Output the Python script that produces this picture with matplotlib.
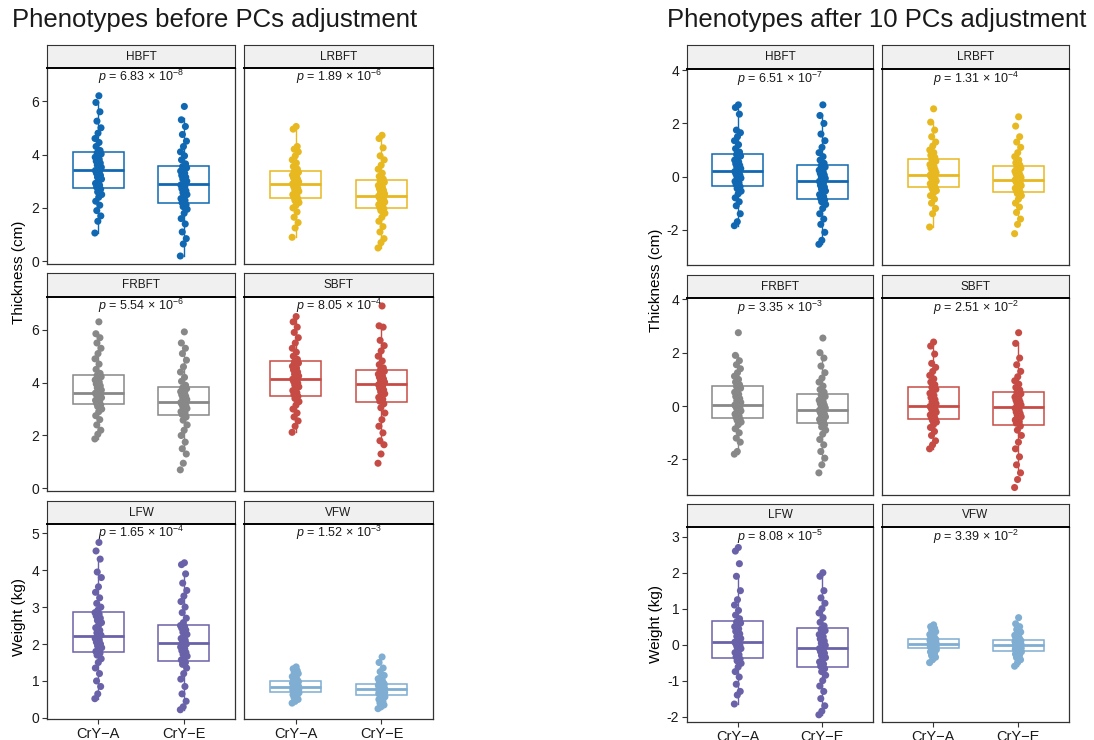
import numpy as np
import matplotlib
matplotlib.use("Agg")
import matplotlib.pyplot as plt

plt.rcParams['font.family'] = ['Liberation Sans', 'DejaVu Sans']
plt.rcParams['mathtext.fontset'] = 'custom'
plt.rcParams['mathtext.rm'] = 'Liberation Sans'
plt.rcParams['mathtext.it'] = 'Liberation Sans:italic'
plt.rcParams['axes.unicode_minus'] = False

traits = ["HBFT", "LRBFT", "FRBFT", "SBFT", "LFW", "VFW"]
groups = ["CrY\u2212A", "CrY\u2212E"]
colors = ["#1068B2", "#E8B820", "#888888", "#C74B45", "#6A62A8", "#7FAED2"]

# ---- raw phenotypes ----
hbft_before_a = [1.06, 1.5, 1.7, 1.9, 2.1, 2.25, 2.4, 2.5, 2.6, 2.7,
                 2.78, 2.85, 2.92, 3.0, 3.08, 3.15, 3.22, 3.3, 3.36, 3.4,
                 3.45, 3.52, 3.6, 3.68, 3.75, 3.82, 3.9, 3.96, 4.02, 4.06,
                 4.15, 4.3, 4.45, 4.6, 4.8, 5.0, 5.25, 5.6, 5.95, 6.2]
hbft_before_e = [0.2, 0.65, 0.85, 1.1, 1.4, 1.6, 1.8, 1.95, 2.05, 2.12,
                 2.2, 2.28, 2.35, 2.42, 2.5, 2.57, 2.64, 2.72, 2.8, 2.86,
                 2.92, 3.0, 3.08, 3.15, 3.22, 3.3, 3.38, 3.45, 3.5, 3.55,
                 3.65, 3.8, 3.95, 4.1, 4.3, 4.5, 4.75, 5.05, 5.3, 5.8]
lrbft_before_a = [0.9, 1.25, 1.45, 1.65, 1.85, 2.0, 2.1, 2.2, 2.28, 2.33,
                  2.4, 2.45, 2.5, 2.56, 2.62, 2.68, 2.74, 2.8, 2.86, 2.9,
                  2.94, 2.98, 3.03, 3.08, 3.13, 3.18, 3.23, 3.28, 3.33, 3.37,
                  3.45, 3.55, 3.68, 3.8, 3.95, 4.1, 4.2, 4.3, 4.95, 5.05]
lrbft_before_e = [0.5, 0.7, 0.85, 1.1, 1.3, 1.5, 1.65, 1.8, 1.9, 1.96,
                  2.02, 2.07, 2.12, 2.17, 2.22, 2.27, 2.32, 2.37, 2.41, 2.44,
                  2.48, 2.53, 2.6, 2.66, 2.72, 2.78, 2.84, 2.9, 2.96, 3.0,
                  3.08, 3.18, 3.3, 3.45, 3.6, 3.8, 3.95, 4.25, 4.6, 4.72]
frbft_before_a = [1.87, 2.05, 2.2, 2.4, 2.6, 2.75, 2.9, 3.0, 3.1, 3.16,
                  3.22, 3.28, 3.33, 3.38, 3.43, 3.48, 3.52, 3.55, 3.58, 3.6,
                  3.65, 3.72, 3.8, 3.88, 3.95, 4.02, 4.1, 4.17, 4.22, 4.27,
                  4.35, 4.5, 4.7, 4.9, 5.1, 5.3, 5.5, 5.7, 5.85, 6.3]
frbft_before_e = [0.7, 0.95, 1.3, 1.5, 1.75, 2.0, 2.2, 2.4, 2.58, 2.7,
                  2.8, 2.85, 2.9, 2.96, 3.02, 3.08, 3.13, 3.18, 3.22, 3.25,
                  3.3, 3.36, 3.42, 3.48, 3.54, 3.6, 3.66, 3.72, 3.77, 3.8,
                  3.9, 4.05, 4.2, 4.4, 4.6, 4.85, 5.1, 5.3, 5.5, 5.92]
sbft_before_a = [2.12, 2.35, 2.55, 2.7, 2.85, 3.0, 3.15, 3.28, 3.4, 3.48,
                 3.55, 3.62, 3.7, 3.77, 3.84, 3.91, 3.98, 4.04, 4.1, 4.13,
                 4.18, 4.25, 4.32, 4.4, 4.48, 4.55, 4.62, 4.68, 4.74, 4.78,
                 4.88, 5.0, 5.15, 5.3, 5.5, 5.7, 5.9, 6.1, 6.3, 6.5]
sbft_before_e = [0.95, 1.3, 1.65, 1.8, 2.1, 2.35, 2.6, 2.85, 3.05, 3.2,
                 3.3, 3.37, 3.44, 3.51, 3.58, 3.65, 3.72, 3.79, 3.86, 3.92,
                 3.97, 4.02, 4.08, 4.14, 4.2, 4.26, 4.32, 4.38, 4.43, 4.47,
                 4.56, 4.68, 4.82, 5.0, 5.2, 5.4, 5.6, 6.1, 6.15, 6.9]
lfw_before_a = [0.52, 0.65, 0.85, 1.0, 1.2, 1.35, 1.5, 1.6, 1.7, 1.75,
                1.8, 1.85, 1.9, 1.95, 2.0, 2.05, 2.1, 2.15, 2.2, 2.24,
                2.3, 2.37, 2.44, 2.51, 2.58, 2.64, 2.7, 2.76, 2.81, 2.85,
                2.92, 3.0, 3.1, 3.25, 3.4, 3.55, 3.8, 3.95, 4.3, 4.52, 4.75]
lfw_before_e = [0.22, 0.3, 0.45, 0.65, 0.85, 1.05, 1.2, 1.35, 1.45, 1.5,
                1.57, 1.62, 1.67, 1.72, 1.77, 1.82, 1.87, 1.92, 1.97, 2.0,
                2.05, 2.1, 2.15, 2.2, 2.26, 2.32, 2.38, 2.43, 2.47, 2.5,
                2.58, 2.7, 2.85, 3.0, 3.15, 3.3, 3.45, 3.65, 3.9, 4.15, 4.2]
vfw_before_a = [0.4, 0.45, 0.5, 0.55, 0.6, 0.63, 0.66, 0.68, 0.7, 0.7,
                0.72, 0.73, 0.75, 0.76, 0.77, 0.78, 0.79, 0.8, 0.81, 0.82,
                0.84, 0.85, 0.87, 0.88, 0.9, 0.92, 0.94, 0.96, 0.98, 0.99,
                1.02, 1.05, 1.08, 1.12, 1.15, 1.2, 1.24, 1.28, 1.33, 1.38]
vfw_before_e = [0.25, 0.3, 0.35, 0.4, 0.45, 0.5, 0.54, 0.57, 0.59, 0.61,
                0.63, 0.64, 0.66, 0.67, 0.69, 0.7, 0.72, 0.73, 0.75, 0.77,
                0.79, 0.8, 0.82, 0.83, 0.85, 0.86, 0.88, 0.89, 0.91, 0.92,
                0.95, 0.98, 1.02, 1.06, 1.1, 1.15, 1.25, 1.35, 1.5, 1.65]

# ---- residuals after 10 PCs ----
hbft_after_a = [-1.85, -1.7, -1.4, -1.1, -0.95, -0.8, -0.65, -0.55, -0.45, -0.38,
                -0.3, -0.24, -0.18, -0.12, -0.06, 0.0, 0.05, 0.1, 0.15, 0.19,
                0.24, 0.3, 0.36, 0.42, 0.48, 0.55, 0.62, 0.7, 0.77, 0.83,
                0.92, 1.05, 1.2, 1.35, 1.5, 1.65, 1.75, 2.35, 2.6, 2.7]
hbft_after_e = [-2.55, -2.4, -2.1, -1.8, -1.6, -1.4, -1.2, -1.05, -0.95, -0.88,
                -0.82, -0.75, -0.68, -0.61, -0.54, -0.47, -0.4, -0.33, -0.25, -0.18,
                -0.13, -0.07, 0.0, 0.06, 0.12, 0.18, 0.24, 0.3, 0.36, 0.41,
                0.5, 0.62, 0.75, 0.9, 1.1, 1.35, 1.6, 2.0, 2.3, 2.7]
lrbft_after_a = [-1.9, -1.4, -1.2, -1.0, -0.85, -0.72, -0.62, -0.53, -0.47, -0.43,
                 -0.37, -0.32, -0.27, -0.22, -0.17, -0.12, -0.07, -0.02, 0.02, 0.05,
                 0.1, 0.15, 0.2, 0.26, 0.32, 0.38, 0.45, 0.52, 0.58, 0.64,
                 0.72, 0.8, 0.9, 1.0, 1.15, 1.3, 1.5, 1.75, 2.05, 2.55]
lrbft_after_e = [-2.15, -1.8, -1.6, -1.35, -1.15, -1.0, -0.85, -0.72, -0.64, -0.6,
                 -0.54, -0.49, -0.44, -0.39, -0.34, -0.29, -0.24, -0.2, -0.16, -0.13,
                 -0.09, -0.04, 0.0, 0.05, 0.1, 0.15, 0.2, 0.26, 0.31, 0.36,
                 0.43, 0.52, 0.62, 0.75, 0.9, 1.1, 1.3, 1.5, 1.9, 2.25]
frbft_after_a = [-1.8, -1.7, -1.35, -1.2, -1.0, -0.85, -0.7, -0.6, -0.53, -0.49,
                 -0.42, -0.36, -0.3, -0.24, -0.18, -0.12, -0.07, -0.02, 0.02, 0.04,
                 0.08, 0.14, 0.2, 0.28, 0.36, 0.44, 0.52, 0.6, 0.67, 0.73,
                 0.8, 0.9, 1.0, 1.12, 1.25, 1.4, 1.55, 1.7, 1.9, 2.75]
frbft_after_e = [-2.5, -2.2, -1.95, -1.7, -1.45, -1.25, -1.05, -0.9, -0.78, -0.7,
                 -0.6, -0.55, -0.5, -0.45, -0.4, -0.35, -0.3, -0.25, -0.2, -0.16,
                 -0.12, -0.07, -0.02, 0.04, 0.1, 0.16, 0.22, 0.29, 0.36, 0.42,
                 0.52, 0.62, 0.75, 0.9, 1.05, 1.25, 1.5, 1.8, 2.0, 2.55]
sbft_after_a = [-1.6, -1.45, -1.3, -1.1, -0.95, -0.8, -0.7, -0.6, -0.53, -0.5,
                -0.43, -0.38, -0.33, -0.28, -0.23, -0.18, -0.13, -0.08, -0.04, -0.01,
                0.03, 0.09, 0.16, 0.24, 0.32, 0.4, 0.48, 0.56, 0.63, 0.7,
                0.8, 0.9, 1.02, 1.15, 1.3, 1.45, 1.6, 1.95, 2.25, 2.4]
sbft_after_e = [-3.05, -2.75, -2.5, -2.2, -1.9, -1.6, -1.35, -1.1, -0.9, -0.75,
                -0.64, -0.58, -0.52, -0.46, -0.4, -0.34, -0.28, -0.22, -0.15, -0.08,
                -0.02, 0.04, 0.1, 0.16, 0.22, 0.28, 0.34, 0.4, 0.46, 0.51,
                0.6, 0.7, 0.82, 0.95, 1.1, 1.3, 1.55, 1.8, 2.35, 2.75]
lfw_after_a = [-1.65, -1.4, -1.3, -1.1, -0.9, -0.75, -0.62, -0.52, -0.45, -0.4,
               -0.34, -0.28, -0.22, -0.16, -0.11, -0.06, -0.02, 0.02, 0.04, 0.07,
               0.11, 0.17, 0.23, 0.3, 0.37, 0.44, 0.5, 0.56, 0.6, 0.63,
               0.72, 0.82, 0.95, 1.1, 1.25, 1.5, 1.9, 2.25, 2.6, 2.7]
lfw_after_e = [-1.95, -1.85, -1.7, -1.5, -1.3, -1.15, -1.0, -0.85, -0.75, -0.67,
               -0.6, -0.54, -0.48, -0.42, -0.36, -0.3, -0.24, -0.19, -0.14, -0.11,
               -0.07, -0.02, 0.04, 0.1, 0.16, 0.22, 0.28, 0.34, 0.39, 0.43,
               0.52, 0.62, 0.75, 0.88, 1.0, 1.15, 1.3, 1.5, 1.9, 2.0]
vfw_after_a = [-0.5, -0.42, -0.35, -0.3, -0.25, -0.2, -0.17, -0.14, -0.12, -0.11,
               -0.09, -0.08, -0.06, -0.05, -0.04, -0.02, -0.01, 0.0, 0.01, 0.02,
               0.04, 0.05, 0.07, 0.08, 0.09, 0.11, 0.12, 0.13, 0.14, 0.15,
               0.18, 0.21, 0.25, 0.28, 0.32, 0.36, 0.4, 0.45, 0.5, 0.55]
vfw_after_e = [-0.6, -0.5, -0.42, -0.36, -0.3, -0.26, -0.23, -0.2, -0.19, -0.18,
               -0.16, -0.14, -0.13, -0.11, -0.1, -0.08, -0.06, -0.05, -0.03, -0.02,
               0.0, 0.01, 0.03, 0.04, 0.06, 0.07, 0.09, 0.1, 0.11, 0.12,
               0.15, 0.18, 0.22, 0.26, 0.3, 0.35, 0.42, 0.5, 0.58, 0.75]

# box summaries: whisker low, Q1, median, Q3, whisker high
box_before_a = [[1.06, 2.75, 3.41, 4.08, 5.95], [0.9, 2.36, 2.91, 3.39, 4.93],
                [1.87, 3.2, 3.59, 4.29, 5.85], [2.12, 3.51, 4.14, 4.8, 6.5],
                [0.52, 1.78, 2.23, 2.86, 4.3], [0.4, 0.71, 0.83, 1.0, 1.38]]
box_before_e = [[0.2, 2.17, 2.89, 3.57, 5.35], [0.5, 1.99, 2.45, 3.03, 4.6],
                [1.3, 2.76, 3.26, 3.82, 5.3], [1.65, 3.26, 3.95, 4.49, 6.15],
                [0.22, 1.54, 2.02, 2.51, 3.9], [0.25, 0.62, 0.78, 0.93, 1.35]]
box_after_a = [[-1.85, -0.34, 0.21, 0.85, 2.6], [-1.9, -0.4, 0.06, 0.67, 2.05],
               [-1.8, -0.46, 0.05, 0.75, 1.9], [-1.6, -0.47, 0.0, 0.73, 2.4],
               [-1.65, -0.37, 0.06, 0.65, 1.9], [-0.42, -0.1, 0.03, 0.16, 0.55]]
box_after_e = [[-2.55, -0.85, -0.16, 0.43, 2.3], [-1.8, -0.57, -0.14, 0.38, 1.5],
               [-2.2, -0.65, -0.14, 0.45, 2.0], [-2.5, -0.69, -0.04, 0.54, 2.35],
               [-1.95, -0.63, -0.1, 0.45, 2.0], [-0.6, -0.17, -0.02, 0.13, 0.5]]

p_before = ["6.83", "1.89", "5.54", "8.05", "1.65", "1.52"]
p_before_exp = [-8, -6, -6, -4, -4, -3]
p_after = ["6.51", "1.31", "3.35", "2.51", "8.08", "3.39"]
p_after_exp = [-7, -4, -3, -2, -5, -2]

before_pts = [(hbft_before_a, hbft_before_e), (lrbft_before_a, lrbft_before_e),
              (frbft_before_a, frbft_before_e), (sbft_before_a, sbft_before_e),
              (lfw_before_a, lfw_before_e), (vfw_before_a, vfw_before_e)]
after_pts = [(hbft_after_a, hbft_after_e), (lrbft_after_a, lrbft_after_e),
             (frbft_after_a, frbft_after_e), (sbft_after_a, sbft_after_e),
             (lfw_after_a, lfw_after_e), (vfw_after_a, vfw_after_e)]

W, H = 1094, 740
fig = plt.figure(figsize=(W / 100, H / 100), dpi=100)
EDGE = "#333333"


def rect(x0, x1, y0, y1):
    return [x0 / W, 1 - y1 / H, (x1 - x0) / W, (y1 - y0) / H]


def jitter(n, width=0.04):
    order = (np.arange(n) * 17) % n
    return np.linspace(-width, width, n)[order]


def facet(xs, strip, panel, name, pts, stats, color, ptxt, pexp,
          ylim, yticks, p_y, show_y, show_x):
    sa = fig.add_axes(rect(xs[0], xs[1], strip[0], strip[1]))
    sa.set_facecolor("#F0F0F0")
    sa.set_xticks([]); sa.set_yticks([])
    for s in sa.spines.values():
        s.set_color(EDGE); s.set_linewidth(0.8)
    sa.text(0.5, 0.5, name, ha="center", va="center", fontsize=8.5,
            color="#1a1a1a", transform=sa.transAxes)

    ax = fig.add_axes(rect(xs[0], xs[1], panel[0], panel[1]))
    bstats = []
    for st in stats:
        bstats.append(dict(whislo=st[0], q1=st[1], med=st[2], q3=st[3],
                           whishi=st[4], fliers=[]))
    ax.bxp(bstats, positions=[1, 2], widths=0.6, showcaps=False,
           showfliers=False, patch_artist=True,
           boxprops=dict(facecolor="white", edgecolor=color, linewidth=1.1),
           medianprops=dict(color=color, linewidth=2.0),
           whiskerprops=dict(color=color, linewidth=1.0), zorder=2)
    for i, vals in enumerate(pts):
        v = np.array(vals)
        ax.scatter(i + 1 + jitter(len(v)), v, s=26, color=color,
                   edgecolors="none", zorder=3)
    ax.text(1.5, p_y, r"$\it{p}$ = %s × 10$^{%d}$" % (ptxt, pexp),
            ha="center", va="center", fontsize=9, color="#1a1a1a")
    ax.set_xlim(0.4, 2.6)
    ax.set_ylim(*ylim)
    ax.set_yticks(yticks)
    for s in ax.spines.values():
        s.set_color(EDGE); s.set_linewidth(0.9)
    ax.spines["top"].set_color("black")
    ax.spines["top"].set_linewidth(1.4)
    ax.tick_params(axis="both", color=EDGE, length=3.5, width=0.8,
                   labelsize=10, labelcolor="#1a1a1a", pad=2)
    if show_y:
        ax.set_yticklabels([str(t) for t in yticks])
    else:
        ax.tick_params(axis="y", left=False, labelleft=False)
    if show_x:
        ax.set_xticks([1, 2])
        ax.set_xticklabels(groups, fontsize=10.5)
    else:
        ax.set_xticks([])
    return ax


layouts = {
    "before": dict(xs=[(47, 235), (244, 433)],
                   strips=[(45, 68), (273, 297), (501, 524)],
                   panels=[(68, 264), (297, 491), (524, 719)],
                   ylims=[(-0.1, 7.24), (-0.1, 7.24), (-0.03, 5.25)],
                   yticks=[[0, 2, 4, 6], [0, 2, 4, 6], [0, 1, 2, 3, 4, 5]],
                   py=[6.9, 6.9, 5.0]),
    "after": dict(xs=[(687, 873), (882, 1069)],
                  strips=[(45, 69), (275, 298), (504, 527)],
                  panels=[(69, 265), (298, 495), (527, 722)],
                  ylims=[(-3.33, 4.05), (-3.33, 4.05), (-2.15, 3.27)],
                  yticks=[[-2, 0, 2, 4], [-2, 0, 2, 4], [-2, -1, 0, 1, 2, 3]],
                  py=[3.69, 3.69, 3.0]),
}

sides = [("before", before_pts, box_before_a, box_before_e, p_before, p_before_exp),
         ("after", after_pts, box_after_a, box_after_e, p_after, p_after_exp)]

for key, pts, ba, be, ptxt, pexp in sides:
    lay = layouts[key]
    for k, trait in enumerate(traits):
        r, c = divmod(k, 2)
        facet(lay["xs"][c], lay["strips"][r], lay["panels"][r], trait,
              pts[k], [ba[k], be[k]], colors[k], ptxt[k], pexp[k],
              lay["ylims"][r], lay["yticks"][r], lay["py"][r],
              show_y=(c == 0), show_x=(r == 2))

fig.text(215 / W, 1 - 20 / H, "Phenotypes before PCs adjustment",
         ha="center", va="center", fontsize=18.5, color="#1a1a1a")
fig.text(877 / W, 1 - 20 / H, "Phenotypes after 10 PCs adjustment",
         ha="center", va="center", fontsize=18.5, color="#1a1a1a")
fig.text(19 / W, 1 - 272 / H, "Thickness (cm)", rotation=90,
         ha="center", va="center", fontsize=11)
fig.text(19 / W, 1 - 617 / H, "Weight (kg)", rotation=90,
         ha="center", va="center", fontsize=11)
fig.text(656 / W, 1 - 280 / H, "Thickness (cm)", rotation=90,
         ha="center", va="center", fontsize=11)
fig.text(656 / W, 1 - 624 / H, "Weight (kg)", rotation=90,
         ha="center", va="center", fontsize=11)

fig.savefig("out.png", dpi=100)
